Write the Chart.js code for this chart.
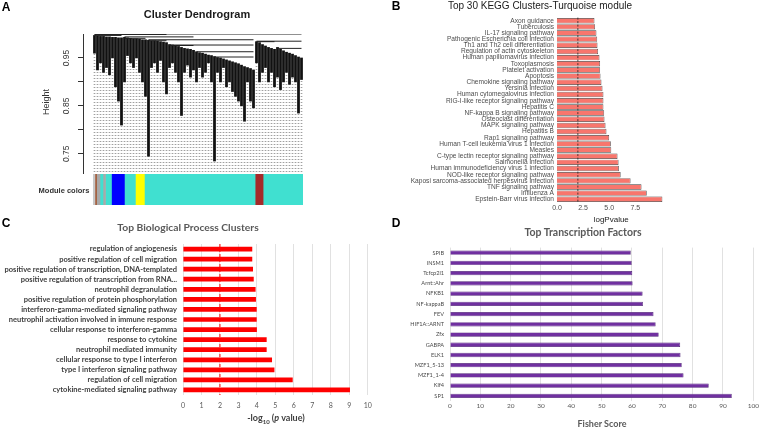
<!DOCTYPE html>
<html><head><meta charset="utf-8">
<script src="https://cdn.jsdelivr.net/npm/chart.js@4.4.0/dist/chart.umd.min.js"></script>
<style>
body{margin:0;width:760px;height:428px;background:#fff;position:relative;overflow:hidden;font-family:"Liberation Sans",Arial,sans-serif}
canvas{position:absolute}
.t{position:absolute;white-space:nowrap;line-height:1;transform:translate(-50%,-50%)}
.L{font-family:Lato,"Open Sans",sans-serif}
</style></head><body>
<canvas id="cA" style="left:0;top:0" width="380" height="210"></canvas>
<canvas id="cM" style="left:93px;top:174px" width="210" height="31"></canvas>
<canvas id="cB" style="left:380px;top:0" width="380" height="225"></canvas>
<canvas id="cC" style="left:0;top:210px" width="380" height="218"></canvas>
<canvas id="cD" style="left:380px;top:210px" width="380" height="218"></canvas>

<div class="t" style="left:6px;top:7px;font-weight:bold;font-size:12px">A</div>
<div class="t" style="left:396px;top:6px;font-weight:bold;font-size:12px">B</div>
<div class="t" style="left:6px;top:223px;font-weight:bold;font-size:12px">C</div>
<div class="t" style="left:396px;top:223px;font-weight:bold;font-size:12px">D</div>
<div class="t" style="left:197px;top:14px;font-weight:bold;font-size:11px;color:#1a1a1a">Cluster Dendrogram</div>
<div class="t" style="left:46px;top:102px;font-size:9px;color:#333;transform:translate(-50%,-50%) rotate(-90deg)">Height</div>
<div class="t" style="left:64px;top:190.5px;font-weight:bold;font-size:7.5px;color:#333">Module colors</div>
<div class="t" style="left:540px;top:6px;font-size:10px;color:#1a1a1a">Top 30 KEGG Clusters-Turquoise module</div>
<div class="t L" style="left:188px;top:226.5px;font-weight:bold;font-size:10.3px;color:#595959">Top Biological Process Clusters</div>
<div class="t L" style="left:276px;top:419px;font-weight:bold;font-size:9px;color:#404040">-log<sub style="font-size:6px">10</sub> (<i>p</i> value)</div>
<div class="t L" style="left:583px;top:232px;font-weight:bold;font-size:10.5px;color:#595959">Top Transcription Factors</div>
<div class="t L" style="left:602px;top:423px;font-weight:bold;font-size:9px;color:#595959">Fisher Score</div>

<script>
// ---------- Panel A data ----------
const leafHeights = [0.96,0.925,0.94,0.92,0.93,0.915,0.95,0.89,0.86,0.81,
  0.90,0.955,0.94,0.93,0.95,0.92,0.90,0.87,0.745,0.93,
  0.94,0.92,0.945,0.90,0.875,0.93,0.94,0.92,0.90,0.83,
  0.92,0.935,0.91,0.925,0.90,0.93,0.91,0.92,0.94,0.90,
  0.735,0.92,0.90,0.93,0.89,0.90,0.88,0.87,0.86,0.85,
  0.818,0.90,0.86,0.846,0.94,0.90,0.92,0.93,0.90,0.92,
  0.89,0.91,0.884,0.90,0.92,0.895,0.91,0.90,0.835,0.905];
const leafMerge = [0.997,0.996,0.995,0.995,0.994,0.994,0.993,0.993,0.992,0.992,
  0.993,0.992,0.991,0.99,0.99,0.989,0.988,0.988,0.987,0.986,
  0.986,0.985,0.984,0.983,0.982,0.978,0.977,0.976,0.974,0.972,
  0.97,0.969,0.968,0.966,0.963,0.961,0.96,0.958,0.956,0.955,
  0.953,0.951,0.95,0.948,0.946,0.944,0.942,0.94,0.938,0.935,
  0.932,0.93,0.928,0.925,0.984,0.982,0.978,0.975,0.972,0.97,
  0.968,0.972,0.968,0.965,0.962,0.96,0.958,0.955,0.952,0.95];
const mergeLines = [[0,9,0.997],[10,17,0.991],[18,24,0.986],[25,33,0.976],[0,24,0.999],[10,33,0.994],
  [18,53,0.988],[25,53,0.977],[34,53,0.963],[40,53,0.952],[54,60,0.984],[54,69,0.985],[61,69,0.97],[0,69,1.0]];
const heightTicks = [0.75,0.80,0.85,0.90,0.95];
const heightTickLabels = ['0.75','','0.85','','0.95'];
const heightMin = 0.71, heightMax = 1.0;
const moduleWidths = [2,1.5,3.5,3,2.5,6,13,11,9,111,8,40];
const moduleColors = ['#C8C8C8','#A0522D','#A9A9A9','#40E0D0','#A9A9A9','#40E0D0','#0000FF','#40E0D0','#FFFF00','#40E0D0','#A52A2A','#40E0D0'];

// ---------- Panel B data ----------
const keggPathways = ['Axon guidance','Tuberculosis','IL-17 signaling pathway','Pathogenic Escherichia coli infection',
 'Th1 and Th2 cell differentiation','Regulation of actin cytoskeleton','Human papillomavirus infection','Toxoplasmosis',
 'Platelet activation','Apoptosis','Chemokine signaling pathway','Yersinia infection','Human cytomegalovirus infection',
 'RIG-I-like receptor signaling pathway','Hepatitis C','NF-kappa B signaling pathway','Osteoclast differentiation',
 'MAPK signaling pathway','Hepatitis B','Rap1 signaling pathway','Human T-cell leukemia virus 1 infection','Measles',
 'C-type lectin receptor signaling pathway','Salmonella infection','Human immunodeficiency virus 1 infection',
 'NOD-like receptor signaling pathway','Kaposi sarcoma-associated herpesvirus infection','TNF signaling pathway',
 'Influenza A','Epstein-Barr virus infection'];
const keggLogP = [3.59,3.65,3.78,3.85,3.88,3.94,4.07,4.13,4.13,4.17,4.26,4.36,4.45,4.45,4.45,4.52,4.55,4.65,4.74,5.0,
 5.16,5.2,5.8,5.9,5.93,6.1,7.05,8.1,8.6,10.1];
const keggTicks = [0,2.5,5,7.5];
const keggRef = 2;

// ---------- Panel C data ----------
const bpTerms = ['regulation of angiogenesis','positive regulation of cell migration',
 'positive regulation of transcription, DNA-templated','positive regulation of transcription from RNA...',
 'neutrophil degranulation','positive regulation of protein phosphorylation','interferon-gamma-mediated signaling pathway',
 'neutrophil activation involved in immune response','cellular response to interferon-gamma','response to cytokine',
 'neutrophil mediated immunity','cellular response to type I interferon','type I interferon signaling pathway',
 'regulation of cell migration','cytokine-mediated signaling pathway'];
const bpLogP = [3.75,3.75,3.79,3.83,3.93,3.95,3.99,3.99,4.0,4.53,4.53,4.82,4.95,5.94,9.04];
const bpRef = 2;

// ---------- Panel D data ----------
const tfNames = ['SPIB','INSM1','Tcfcp2l1','Arnt::Ahr','NFKB1','NF-kappaB','FEV','HIF1A::ARNT','Zfx','GABPA','ELK1',
 'MZF1_5-13','MZF1_1-4','Klf4','SP1'];
const tfScores = [59.6,59.9,60.1,60.2,63.5,63.6,67.1,67.8,68.8,75.9,76.0,76.4,77.0,85.3,92.9];

Chart.defaults.animation = false;
Chart.defaults.responsive = false;
Chart.defaults.plugins.legend.display = false;
Chart.defaults.plugins.tooltip.enabled = false;

// dotted pattern for leaf guide lines
const pc = document.createElement('canvas'); pc.width = 1; pc.height = 3;
const pctx = pc.getContext('2d'); pctx.fillStyle = '#a0a0a0'; pctx.fillRect(0,0,1,1);
const dotPattern = pctx.createPattern(pc,'repeat');

// Panel A
const rotTicks = {
  id:'rotTicks',
  afterDraw(chart){
    const s = chart.scales.y, ctx = chart.ctx;
    ctx.save(); ctx.fillStyle = '#333'; ctx.font = '8.5px "Liberation Sans", Arial';
    ctx.textAlign = 'center'; ctx.textBaseline = 'middle';
    heightTicks.forEach((v,i)=>{
      if(!heightTickLabels[i]) return;
      ctx.save(); ctx.translate(67, s.getPixelForValue(v)); ctx.rotate(-Math.PI/2);
      ctx.fillText(heightTickLabels[i],0,0); ctx.restore();
    });
    ctx.restore();
  }
};
new Chart(document.getElementById('cA'), {
  data:{datasets:[
    {type:'bar', data:leafHeights.map((h,i)=>({x:i+0.5,y:[heightMin,h]})), backgroundColor:dotPattern, barThickness:1, grouped:false, order:3},
    {type:'bar', data:leafHeights.map((h,i)=>({x:i+0.5,y:[h,leafMerge[i]]})), backgroundColor:'#111', barThickness:2.1, grouped:false, order:2},
    ...mergeLines.map(([a,b,h])=>({type:'line', data:[{x:a+0.5,y:h},{x:b+0.5,y:h}], borderColor:'#222', borderWidth:1, pointRadius:0, order:1}))
  ]},
  options:{
    layout:{padding:{left:0,top:34,right:77,bottom:37}},
    scales:{
      x:{type:'linear', min:-3.33, max:70, offset:false, display:false},
      y:{min:heightMin, max:heightMax,
         afterBuildTicks:s=>{s.ticks = heightTicks.map(v=>({value:v}));},
         afterFit:s=>{s.width = 83;},
         ticks:{display:false},
         grid:{drawOnChartArea:false, drawTicks:true, tickLength:5, color:'#333'},
         border:{display:true, color:'#333'}}
    }
  },
  plugins:[rotTicks]
});

// Module colors strip
new Chart(document.getElementById('cM'), {
  type:'bar',
  data:{labels:['m'], datasets:moduleWidths.map((w,i)=>({data:[w], backgroundColor:moduleColors[i], borderWidth:0, barPercentage:1, categoryPercentage:1}))},
  options:{indexAxis:'y', layout:{padding:0},
    scales:{x:{stacked:true, min:0, max:moduleWidths.reduce((a,b)=>a+b,0), display:false}, y:{stacked:true, display:false}}}
});

// reference line plugin
const refLine = (val, color, dash, width) => ({
  id:'ref'+Math.random(),
  afterDatasetsDraw(chart){
    const x = chart.scales.x.getPixelForValue(val), a = chart.chartArea, ctx = chart.ctx;
    ctx.save(); ctx.strokeStyle = color; ctx.lineWidth = width; ctx.setLineDash(dash);
    ctx.beginPath(); ctx.moveTo(x, a.top); ctx.lineTo(x, a.bottom); ctx.stroke(); ctx.restore();
  }
});

// Panel B
new Chart(document.getElementById('cB'), {
  type:'bar',
  data:{labels:keggPathways, datasets:[{data:keggLogP, backgroundColor:'#F8766D', borderColor:'#3a3a3a', borderWidth:0.7, barPercentage:0.88, categoryPercentage:1}]},
  options:{indexAxis:'y',
    layout:{padding:{left:0,top:17.6,right:94.5,bottom:0}},
    scales:{
      x:{min:0, max:10.4,
         afterBuildTicks:s=>{s.ticks = keggTicks.map(v=>({value:v}));},
         afterFit:s=>{s.height = 22.6;},
         ticks:{callback:v=>Number(v).toFixed(1), font:{size:7, family:'"Liberation Sans", Arial'}, color:'#4d4d4d', padding:1},
         grid:{display:false, drawTicks:false}, border:{display:false},
         title:{display:true, text:'logPvalue', font:{size:8, family:'"Liberation Sans", Arial'}, color:'#1a1a1a', padding:{top:1,bottom:0}}},
      y:{afterFit:s=>{s.width = 177;},
         ticks:{autoSkip:false, font:{size:6.6, family:'"Liberation Sans", Arial'}, color:'#4d4d4d', padding:3},
         grid:{display:false, drawTicks:false}, border:{display:false}}
    }
  },
  plugins:[refLine(keggRef,'#222',[2,1.5],0.8)]
});

// Panel C
new Chart(document.getElementById('cC'), {
  type:'bar',
  data:{labels:bpTerms, datasets:[{data:bpLogP, backgroundColor:'#FF0000', barPercentage:0.47, categoryPercentage:1}]},
  options:{indexAxis:'y',
    layout:{padding:{left:0,top:34,right:12.3,bottom:0}},
    scales:{
      x:{min:0, max:10, ticks:{stepSize:1, font:{size:7, family:'Lato'}, color:'#595959', padding:7},
         afterFit:s=>{s.height = 33;},
         grid:{color:'#d9d9d9', lineWidth:0.8, drawTicks:false}, border:{display:false}},
      y:{afterFit:s=>{s.width = 183;},
         ticks:{autoSkip:false, font:{size:7.5, family:'Lato', weight:'bold'}, color:'#404040', padding:6},
         grid:{display:false, drawTicks:false}, border:{display:false}}
    }
  },
  plugins:[refLine(bpRef,'#FF0000',[3,2],1)]
});

// Panel D
new Chart(document.getElementById('cD'), {
  type:'bar',
  data:{labels:tfNames, datasets:[{data:tfScores, backgroundColor:'#7030A0', borderColor:'#4b1f73', borderWidth:0.7, barPercentage:0.42, categoryPercentage:1}]},
  options:{indexAxis:'y',
    layout:{padding:{left:0,top:37.6,right:6.7,bottom:0}},
    scales:{
      x:{min:0, max:100, ticks:{stepSize:10, font:{size:6.5, family:'Lato'}, color:'#595959', padding:1},
         afterFit:s=>{s.height = 27;},
         grid:{color:'#d9d9d9', lineWidth:0.8, drawTicks:false}, border:{display:false}},
      y:{afterFit:s=>{s.width = 70;},
         ticks:{autoSkip:false, font:{size:5.6, family:'Lato'}, color:'#4a4a4a', padding:6},
         grid:{display:false, drawTicks:false}, border:{display:false}}
    }
  }
});
</script>
</body></html>
